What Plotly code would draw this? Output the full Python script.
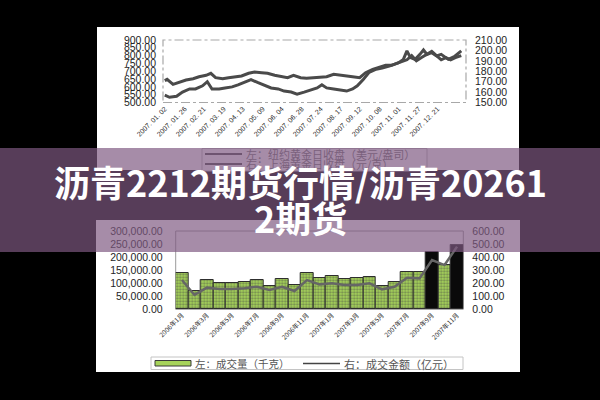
import plotly.graph_objects as go

W, H = 600, 400


def fx(p):
    return p / W


def fy(p):
    return 1 - p / H


# ---------------- data: top chart (2007 daily gold closes, trading-day index) ----------------
NY_DAYS = [0, 2, 7, 12, 18, 24, 29, 35, 39, 43, 49, 54, 60, 65, 71, 76, 82, 87, 93, 98,
           104, 109, 115, 120, 126, 132, 137, 143, 148, 154, 159, 165, 170, 176, 181, 187,
           192, 198, 202, 205, 208, 212, 216, 219, 222, 226, 230, 234, 240, 245, 251]
NY_CLOSE = [640, 648, 616, 631, 644, 652, 665, 674, 687, 659, 652, 659, 665, 670, 687, 695,
            691, 687, 674, 665, 659, 674, 659, 655, 659, 659, 665, 680, 674, 670, 665, 659,
            691, 712, 723, 738, 738, 755, 776, 830, 787, 776, 808, 836, 808, 819, 798, 808,
            776, 793, 830]

SH_DAYS = [0, 4, 10, 15, 21, 26, 32, 36, 40, 46, 51, 57, 62, 68, 73, 79, 84, 90, 96, 101,
           107, 112, 118, 123, 129, 133, 137, 143, 148, 154, 159, 163, 168, 173, 179, 184,
           190, 195, 201, 205, 209, 213, 217, 222, 226, 230, 234, 238, 242, 246, 251]
SH_CLOSE = [157, 155, 156, 160, 163, 163, 166, 170, 163, 163, 164, 165, 167, 170, 172, 169,
            167, 164, 163, 161, 160, 158, 160, 162, 164, 167, 164, 163, 162, 161, 163, 166,
            172, 179, 182, 183, 185, 187, 190, 191, 195, 190, 193, 196, 199, 195, 191, 193,
            191, 193, 195]

DATE_TICK_DAYS = [0, 17, 33, 50, 66, 83, 99, 116, 132, 149, 165, 182, 198, 215, 231]
DATE_TICK_LABELS = ["2007. 01. 02", "2007. 01. 26", "2007. 02. 21", "2007. 03. 19",
                    "2007. 04. 13", "2007. 05. 09", "2007. 06. 04", "2007. 06. 28",
                    "2007. 07. 24", "2007. 08. 17", "2007. 09. 12", "2007. 10. 08",
                    "2007. 11. 01", "2007. 11. 27", "2007. 12. 21"]

LEFT_TICKS_TOP = [500, 550, 600, 650, 700, 750, 800, 850, 900]
RIGHT_TICKS_TOP = [150, 160, 170, 180, 190, 200, 210]

NY_NAME = "左：纽约黄金日收盘（美元/盎司）"
SH_NAME = "右：上海黄金日收盘（元/克）"

# ---------------- data: bottom chart (monthly) ----------------
MONTHS = ["2006年1月", "2006年2月", "2006年3月", "2006年4月", "2006年5月", "2006年6月",
          "2006年7月", "2006年8月", "2006年9月", "2006年10月", "2006年11月", "2006年12月",
          "2007年1月", "2007年2月", "2007年3月", "2007年4月", "2007年5月", "2007年6月",
          "2007年7月", "2007年8月", "2007年9月", "2007年10月", "2007年11月"]
VOLUME = [138000, 70000, 112000, 102000, 102000, 106000, 112000, 91000, 116000, 92000,
          139000, 119000, 129000, 115000, 119000, 123000, 91000, 106000, 144000, 144000,
          221000, 170000, 246000]
AMOUNT = [224, 110, 166, 156, 156, 161, 173, 148, 173, 140, 224, 191, 199, 186, 186, 199,
          153, 173, 242, 237, 378, 339, 480]
HIGHLIGHT_MONTHS = ["2007年9月", "2007年11月"]
MONTH_TICKS = MONTHS[::2]

LEFT_TICKS_BOT = [0, 50000, 100000, 150000, 200000, 250000, 300000]
RIGHT_TICKS_BOT = [0, 100, 200, 300, 400, 500, 600]

VOL_NAME = "左：成交量（千克）"
AMT_NAME = "右：成交金额（亿元）"

TITLE_LINE1 = "沥青2212期货行情/沥青20261"
TITLE_LINE2 = "2期货"

# ---------------- styling ----------------
LINE_DARK = "#4a4a4a"
TXT = "#1e1e1e"
GREEN = "#a6d35a"
LEG_TXT_TINT = "#7a607c"
BANNER = "rgba(126,88,129,0.69)"
CJK = "Noto Sans CJK SC"

fig = go.Figure()

# top chart lines
fig.add_trace(go.Scatter(x=NY_DAYS, y=NY_CLOSE, mode="lines", name=NY_NAME,
                         line=dict(color=LINE_DARK, width=3), xaxis="x", yaxis="y"))
fig.add_trace(go.Scatter(x=SH_DAYS, y=SH_CLOSE, mode="lines", name=SH_NAME,
                         line=dict(color=LINE_DARK, width=3), xaxis="x", yaxis="y2"))

# bottom chart bars + line
is_hl = [m in HIGHLIGHT_MONTHS for m in MONTHS]
bar_colors = ["#0a0a0a" if h else GREEN for h in is_hl]
dot_shape = ["" if h else "." for h in is_hl]
fig.add_trace(go.Bar(x=MONTHS, y=VOLUME, name=VOL_NAME, xaxis="x2", yaxis="y3",
                     marker=dict(color=bar_colors,
                                 line=dict(color="#2e2e2e", width=1),
                                 pattern=dict(shape=dot_shape, fillmode="overlay",
                                              fgcolor="#e6f6c4", size=3, solidity=0.45))))
fig.add_trace(go.Scatter(x=MONTHS, y=AMOUNT, mode="lines", name=AMT_NAME,
                         line=dict(color="#666666", width=2.5), xaxis="x2", yaxis="y4"))

# plot-area geometry (pixels)
T_L, T_R, T_T, T_B = 163, 466, 40, 102.5
B_L, B_R, B_T, B_B = 175.7, 463.3, 231, 309.3

axfont = dict(family="Liberation Sans", size=10.5, color=TXT)

fig.update_layout(
    template="none",
    width=W, height=H,
    margin=dict(l=0, r=0, t=0, b=0, pad=0),
    paper_bgcolor="#000000",
    plot_bgcolor="rgba(0,0,0,0)",
    showlegend=False,
    bargap=0,
    font=dict(family="Liberation Sans", color=TXT),
    xaxis=dict(domain=[fx(T_L), fx(T_R)], range=[-1.5, 255], anchor="y",
               tickvals=DATE_TICK_DAYS, ticktext=DATE_TICK_LABELS, tickangle=-45,
               tickfont=dict(family="Liberation Sans", size=7, color="#2a2a2a"),
               showgrid=False, zeroline=False, showline=False, ticks="",
               automargin=False, fixedrange=True),
    yaxis=dict(domain=[fy(T_B), fy(T_T)], range=[500, 900], anchor="x",
               tickvals=LEFT_TICKS_TOP, tickformat=".2f", tickfont=axfont,
               showgrid=False, zeroline=False, showline=False, ticks="",
               ticklabelstandoff=6, automargin=False),
    yaxis2=dict(range=[150, 210], overlaying="y", side="right", anchor="x",
                tickvals=RIGHT_TICKS_TOP, tickformat=".2f", tickfont=axfont,
                showgrid=False, zeroline=False, showline=False, ticks="",
                ticklabelstandoff=8, automargin=False),
    xaxis2=dict(domain=[fx(B_L), fx(B_R)], range=[-0.5, 22.5], anchor="y3",
                type="category", tickvals=MONTH_TICKS, ticktext=MONTH_TICKS, tickangle=-45,
                tickfont=dict(family=CJK, size=6.5, color="#2a2a2a"),
                showgrid=False, zeroline=False, showline=False, ticks="",
                automargin=False),
    yaxis3=dict(domain=[fy(B_B), fy(B_T)], range=[0, 300000], anchor="x2",
                tickvals=LEFT_TICKS_BOT, tickformat=",.2f", tickfont=axfont,
                showgrid=False, zeroline=False, showline=False, ticks="",
                ticklabelstandoff=12, automargin=False),
    yaxis4=dict(range=[0, 600], overlaying="y3", side="right", anchor="x2",
                tickvals=RIGHT_TICKS_BOT, tickformat=".2f", tickfont=axfont,
                showgrid=False, zeroline=False, showline=False, ticks="",
                ticklabelstandoff=8, automargin=False),
)

shapes = []
# white panels
shapes.append(dict(type="rect", xref="paper", yref="paper", layer="below",
                   x0=fx(97), x1=fx(519), y0=fy(170), y1=fy(27),
                   fillcolor="white", line=dict(width=0)))
shapes.append(dict(type="rect", xref="paper", yref="paper", layer="below",
                   x0=fx(96), x1=fx(520), y0=fy(372), y1=fy(220),
                   fillcolor="white", line=dict(width=0)))
# top plot frame (dash-dot)
shapes.append(dict(type="rect", xref="paper", yref="paper", layer="below",
                   x0=fx(T_L), x1=fx(T_R), y0=fy(T_B), y1=fy(T_T),
                   line=dict(color="#a8a8a8", width=1.2, dash="dashdot")))
# bottom plot frame
shapes.append(dict(type="rect", xref="paper", yref="paper", layer="below",
                   x0=fx(B_L), x1=fx(B_R), y0=fy(B_B), y1=fy(B_T),
                   line=dict(color="#9a9a9a", width=1)))
# top legend box + line symbols (under the banner)
shapes.append(dict(type="rect", xref="paper", yref="paper", layer="above",
                   x0=fx(202), x1=fx(427), y0=fy(171), y1=fy(148.5),
                   fillcolor="white", line=dict(color="#b8b8b8", width=1)))
for yy in (154, 164):
    shapes.append(dict(type="line", xref="paper", yref="paper", layer="above",
                       x0=fx(205), x1=fx(242), y0=fy(yy), y1=fy(yy),
                       line=dict(color=LINE_DARK, width=2)))
# bottom legend
shapes.append(dict(type="rect", xref="paper", yref="paper", layer="above",
                   x0=fx(151), x1=fx(463), y0=fy(369.5), y1=fy(357),
                   fillcolor="white", line=dict(color="#c4c4c4", width=1)))
shapes.append(dict(type="rect", xref="paper", yref="paper", layer="above",
                   x0=fx(155), x1=fx(191), y0=fy(366), y1=fy(360.5),
                   fillcolor=GREEN, line=dict(color="#3a3a3a", width=1)))
shapes.append(dict(type="line", xref="paper", yref="paper", layer="above",
                   x0=fx(303), x1=fx(340), y0=fy(363.5), y1=fy(363.5),
                   line=dict(color="#444", width=1.5)))
# banner
shapes.append(dict(type="rect", xref="paper", yref="paper", layer="above",
                   x0=0, x1=1, y0=fy(252), y1=fy(148),
                   fillcolor=BANNER, line=dict(width=0)))
fig.update_layout(shapes=shapes)

ann = []
ann.append(dict(x=fx(244), y=fy(154), xref="paper", yref="paper", xanchor="left",
                yanchor="middle", showarrow=False, text=NY_NAME,
                font=dict(family=CJK, size=11, color=LEG_TXT_TINT)))
ann.append(dict(x=fx(244), y=fy(164), xref="paper", yref="paper", xanchor="left",
                yanchor="middle", showarrow=False, text=SH_NAME,
                font=dict(family=CJK, size=11, color=LEG_TXT_TINT)))
ann.append(dict(x=fx(193), y=fy(363.5), xref="paper", yref="paper", xanchor="left",
                yanchor="middle", showarrow=False, text=VOL_NAME,
                font=dict(family=CJK, size=10.5, color="#555")))
ann.append(dict(x=fx(342), y=fy(363.5), xref="paper", yref="paper", xanchor="left",
                yanchor="middle", showarrow=False, text=AMT_NAME,
                font=dict(family=CJK, size=11, color="#555")))
ann.append(dict(x=0.5, y=fy(181), xref="paper", yref="paper", xanchor="center",
                yanchor="middle", showarrow=False, text=TITLE_LINE1,
                font=dict(family=CJK, size=36, color="white", weight="bold")))
ann.append(dict(x=0.5, y=fy(217), xref="paper", yref="paper", xanchor="center",
                yanchor="middle", showarrow=False, text=TITLE_LINE2,
                font=dict(family=CJK, size=36, color="white", weight="bold")))
fig.update_layout(annotations=ann)

fig.write_html("out.html", config=dict(displayModeBar=False),
               post_script="document.body.style.margin='0';"
                           "document.body.style.background='#000';")
